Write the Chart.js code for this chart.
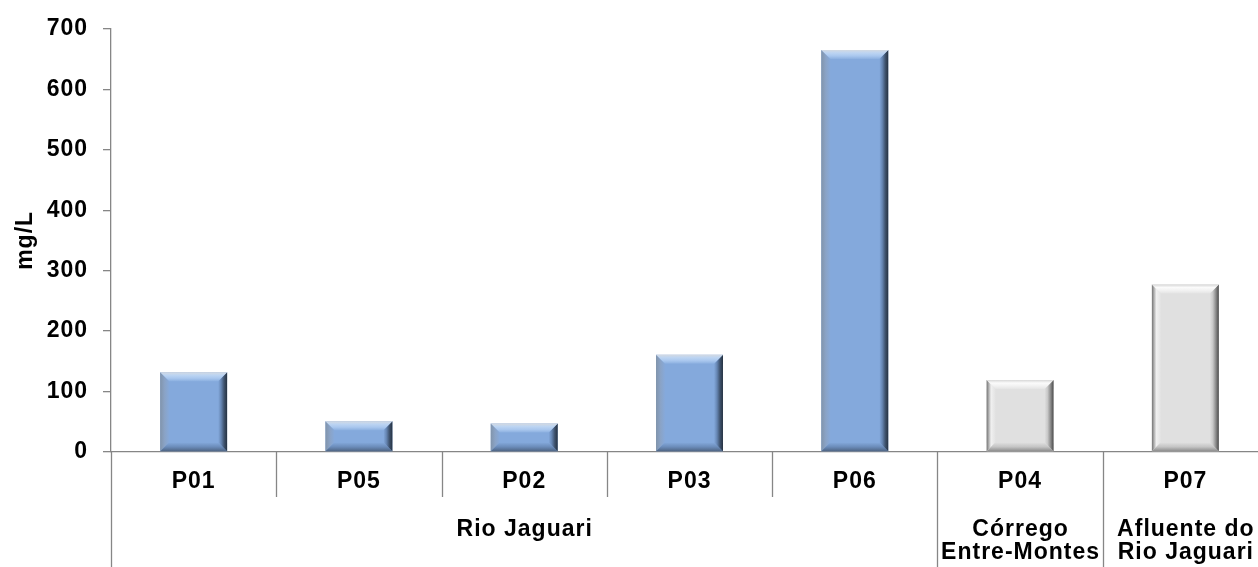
<!DOCTYPE html>
<html>
<head>
<meta charset="utf-8">
<script src="https://cdn.jsdelivr.net/npm/chart.js@4/dist/chart.umd.min.js"></script>
<style>
  html, body { margin: 0; padding: 0; background: #ffffff; overflow: hidden; }
  #wrap { width: 1258px; height: 567px; overflow: hidden; }
  canvas { display: block; }
</style>
</head>
<body>
<div id="wrap"><canvas id="chart" width="1270" height="567"></canvas></div>
<script>
// Sampling points and concentrations (mg/L)
const categories = ['P01', 'P05', 'P02', 'P03', 'P06', 'P04', 'P07'];
const values = [132, 51, 47, 161, 665, 119, 277];

// Water bodies along the bottom axis, and how many points each spans
const groupLabels = [['Rio Jaguari'], ['Córrego', 'Entre-Montes'], ['Afluente do', 'Rio Jaguari']];
const groupSizes = [5, 1, 1];

const yTitle = 'mg/L';

const FONT = '"Liberation Sans", Arial, Helvetica, sans-serif';
const FONT_SIZE = 23;
const AXIS = '#868686';

// Colour sets: the main river in blue, the tributaries in grey.
// Each edge is a list of gradient stops running from the outer edge inwards.
const palettes = [
  { face: '#84a9dc',
    top: ['#d3d9e1', '#bcd4f2', '#a9c7ee', '#8cb0e0'],
    left: ['#8194ab', '#8aa3c6', '#86a9da'],
    right: ['#263241', '#3f536e', '#6686b3', '#84a9dc'],
    bottom: ['#4e6482', '#6b8cba', '#84a9dc'] },
  { face: '#e0e0e0',
    top: ['#d8d8d8', '#fbfbfb', '#f1f1f1', '#e4e4e4'],
    left: ['#737373', '#f0f0f0', '#e2e2e2'],
    right: ['#4a4a4a', '#8c8c8c', '#c8c8c8', '#e0e0e0'],
    bottom: ['#8a8a8a', '#c4c4c4', '#e0e0e0'] }
];

function groupOf(index) {
  let acc = 0;
  for (let g = 0; g < groupSizes.length; g++) {
    acc += groupSizes[g];
    if (index < acc) return g;
  }
  return groupSizes.length - 1;
}
const paletteOf = (index) => palettes[groupOf(index) === 0 ? 0 : 1];

function gradient(ctx, x0, y0, x1, y1, stops) {
  const g = ctx.createLinearGradient(x0, y0, x1, y1);
  stops.forEach((c, i) => g.addColorStop(i / (stops.length - 1), c));
  return g;
}

function poly(ctx, pts, fill) {
  ctx.beginPath();
  ctx.moveTo(pts[0][0], pts[0][1]);
  for (let i = 1; i < pts.length; i++) ctx.lineTo(pts[i][0], pts[i][1]);
  ctx.closePath();
  ctx.fillStyle = fill;
  ctx.fill();
}

// Bevelled edges on each bar, drawn over the face Chart.js paints
const bevelPlugin = {
  id: 'bevel',
  afterDatasetsDraw(chart) {
    const ctx = chart.ctx;
    const meta = chart.getDatasetMeta(0);
    meta.data.forEach((bar, i) => {
      const p = paletteOf(i);
      const L = bar.x - bar.width / 2, R = bar.x + bar.width / 2;
      const T = Math.min(bar.y, bar.base), B = Math.max(bar.y, bar.base);
      const b = Math.min(9, (B - T) / 2, (R - L) / 2);
      ctx.save();
      poly(ctx, [[L, T], [L + b, T + b], [L + b, B - b], [L, B]], gradient(ctx, L, 0, L + b, 0, p.left));
      poly(ctx, [[L, B], [R, B], [R - b, B - b], [L + b, B - b]], gradient(ctx, 0, B, 0, B - b, p.bottom));
      poly(ctx, [[R, T], [R, B], [R - b, B - b], [R - b, T + b]], gradient(ctx, R, 0, R - b, 0, p.right));
      poly(ctx, [[L, T], [R, T], [R - b, T + b], [L + b, T + b]], gradient(ctx, 0, T, 0, T + b, p.top));
      ctx.restore();
    });
  }
};

// Category dividers under the axis plus the two-level group labels
const groupAxisPlugin = {
  id: 'groupAxis',
  beforeDraw(chart) { chart.ctx.letterSpacing = '1px'; },
  beforeLayout(chart) { chart.ctx.letterSpacing = '1px'; },
  afterDraw(chart) {
    const ctx = chart.ctx;
    const xs = chart.scales.x;
    const n = categories.length;
    const edge = (k) => {
      if (k <= 0) return xs.left;
      if (k >= n) return xs.right;
      return (xs.getPixelForValue(k - 1) + xs.getPixelForValue(k)) / 2;
    };
    const axisY = xs.top;
    const groupEdges = [0];
    groupSizes.forEach(s => groupEdges.push(groupEdges[groupEdges.length - 1] + s));

    ctx.save();
    ctx.strokeStyle = AXIS;
    ctx.lineWidth = 1.3;
    for (let k = 0; k <= n; k++) {
      const x = Math.round(edge(k)) + 0.5;
      const full = groupEdges.includes(k);
      ctx.beginPath();
      ctx.moveTo(x, axisY);
      ctx.lineTo(x, full ? chart.height : axisY + 45);
      ctx.stroke();
    }

    ctx.fillStyle = '#000000';
    ctx.font = 'bold ' + FONT_SIZE + 'px ' + FONT;
    ctx.letterSpacing = '1px';
    ctx.textAlign = 'center';
    ctx.textBaseline = 'alphabetic';
    groupLabels.forEach((lines, g) => {
      const cx = (edge(groupEdges[g]) + edge(groupEdges[g + 1])) / 2;
      lines.forEach((line, j) => {
        ctx.fillText(line, cx + 0.5, axisY + 84 + j * 22.5);
      });
    });
    ctx.restore();
  }
};

const tickFont = { family: FONT, size: FONT_SIZE, weight: 'bold' };

new Chart(document.getElementById('chart'), {
  type: 'bar',
  data: {
    labels: categories,
    datasets: [{
      data: values,
      backgroundColor: (c) => paletteOf(c.dataIndex).face,
      borderWidth: 0,
      categoryPercentage: 1,
      barPercentage: 0.405
    }]
  },
  options: {
    responsive: false,
    animation: false,
    devicePixelRatio: 1,
    layout: { padding: { top: 24, right: 2, bottom: 0, left: 0 } },
    plugins: { legend: { display: false }, tooltip: { enabled: false } },
    scales: {
      x: {
        grid: { display: true, drawOnChartArea: false, drawTicks: false, tickLength: 0, color: AXIS },
        border: { display: true, color: AXIS, width: 1.3 },
        ticks: { color: '#000000', padding: 16, font: tickFont, maxRotation: 0 },
        afterFit: (s) => { s.height = 115; }
      },
      y: {
        min: 0,
        max: 700,
        ticks: { stepSize: 100, color: '#000000', padding: 15, font: tickFont },
        grid: { drawOnChartArea: false, drawTicks: true, tickLength: 8, color: AXIS, lineWidth: 1.3 },
        border: { display: true, color: AXIS, width: 1.3 },
        title: { display: true, text: yTitle, color: '#000000', padding: { top: 12, bottom: 0 }, font: tickFont },
        afterFit: (s) => { s.width = 111; }
      }
    }
  },
  plugins: [bevelPlugin, groupAxisPlugin]
});
</script>
</body>
</html>
